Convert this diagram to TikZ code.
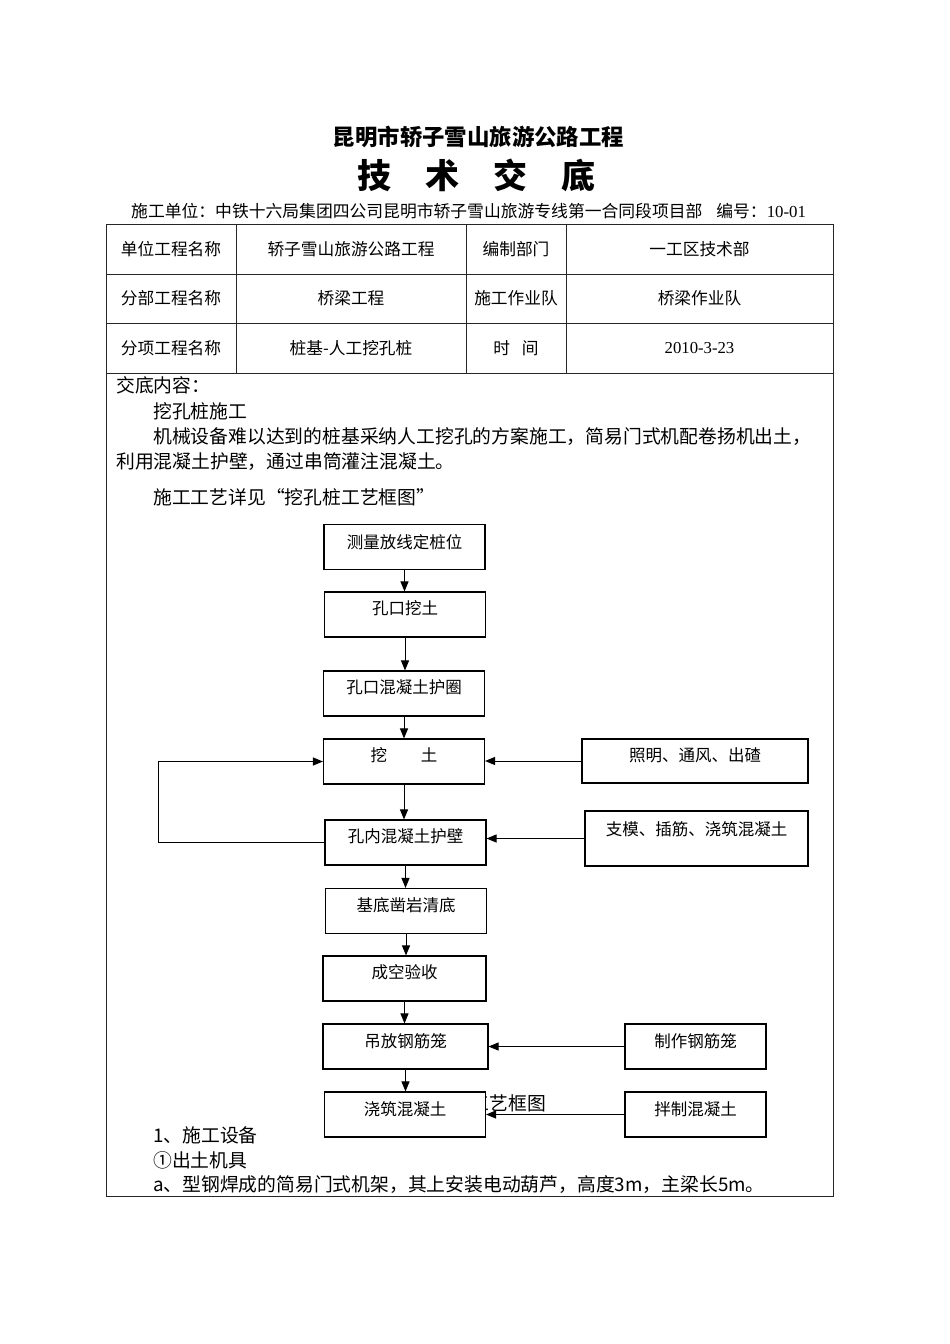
\documentclass[tikz,border=0pt]{standalone}
\usepackage{fontspec}
\setmainfont{Liberation Serif}
\newfontfamily\cjk{Noto Sans CJK SC}
\usetikzlibrary{arrows.meta}
\newcommand{\fs}[1]{\fontsize{#1}{#1}\selectfont}
\begin{document}
\begin{tikzpicture}[x=1pt,y=-1pt,
  fbox/.style={draw, line width=1.1pt, fill=white, inner sep=0pt, minimum width=161pt, minimum height=45pt},
  sbox/.style={draw, line width=1.1pt, fill=white, inner sep=0pt},
  ftext/.style={inner sep=0pt, font=\cjk\fs{16.5}},
  ttext/.style={inner sep=0pt, font=\cjk\fs{16.7}},
  btext/.style={inner sep=0pt, anchor=west, font=\cjk\fs{18.8}},
  grid/.style={draw=black!85, line width=0.9pt},
  arr/.style={draw, line width=1pt, -{Triangle[length=10pt,width=8pt]}}]
\useasboundingbox (0,0) rectangle (950,1344);
\fill[white] (0,0) rectangle (950,1344);

% headings
\node[inner sep=0pt, font=\cjk\bfseries\fs{22.4}] (title) at (478.5,137) {昆明市轿子雪山旅游公路工程};
\node[inner sep=0pt, font=\cjk\bfseries\fs{34}] (title2) at (476,175) {技　术　交　底};
\node[inner sep=0pt, anchor=west, font=\cjk\fs{16.8}] (unit) at (131,211) {施工单位：中铁十六局集团四公司昆明市轿子雪山旅游专线第一合同段项目部\hspace{14pt}编号：{\rmfamily 10-01}};

% table frame
\coordinate (tl) at (106,224);
\coordinate (br) at (833,1196);
\draw[grid] (tl) rectangle (br);
\draw[grid] (106,274) -- (833,274);
\draw[grid] (106,323) -- (833,323);
\draw[grid] (106,373) -- (833,373);
\draw[grid] (236,224) -- (236,373);
\draw[grid] (466,224) -- (466,373);
\draw[grid] (566,224) -- (566,373);

% table texts
\node[ttext] (c11) at (171,249) {单位工程名称};
\node[ttext] (c12) at (351,249) {轿子雪山旅游公路工程};
\node[ttext] (c13) at (516,249) {编制部门};
\node[ttext] (c14) at (699.5,249) {一工区技术部};
\node[ttext] (c21) at (171,298.5) {分部工程名称};
\node[ttext] (c22) at (351,298.5) {桥梁工程};
\node[ttext] (c23) at (516,298.5) {施工作业队};
\node[ttext] (c24) at (699.5,298.5) {桥梁作业队};
\node[ttext] (c31) at (171,348) {分项工程名称};
\node[ttext] (c32) at (351,348) {桩基-人工挖孔桩};
\node[ttext] (c33) at (516,348) {时\hspace{12pt}间};
\node[inner sep=0pt, font=\rmfamily\fs{16.7}] (c34) at (699.5,348) {2010-3-23};

% body text
\node[btext] (p1) at (116,385) {交底内容：};
\node[btext] (p2) at (153,411) {挖孔桩施工};
\node[btext] (p3) at (153,437) {机械设备难以达到的桩基采纳人工挖孔的方案施工，简易门式机配卷扬机出土，};
\node[btext] (p4) at (116,462) {利用混凝土护壁，通过串筒灌注混凝土。};
\node[btext] (p5) at (153,497) {施工工艺详见“挖孔桩工艺框图”};

% caption partly hidden behind the last box
\node[btext] (cap) at (414,1103) {挖孔桩工艺框图};

% flow boxes
\node[fbox] (b1) at (404.5,547) {};
\node[fbox] (b2) at (405,614.5) {};
\node[fbox] (b3) at (404,693.5) {};
\node[fbox] (b4) at (404,761.5) {};
\node[fbox] (b5) at (405.5,842.5) {};
\node[fbox] (b6) at (406,911) {};
\node[fbox, minimum width=163pt] (b7) at (404.5,978.5) {};
\node[fbox, minimum width=165pt] (b8) at (405.5,1046.5) {};
\node[fbox] (b9) at (405,1114.5) {};

\node[ftext] (t1) at (404.5,542) {测量放线定桩位};
\node[ftext] (t2) at (405,608) {孔口挖土};
\node[ftext] (t3) at (404,687) {孔口混凝土护圈};
\node[ftext] (t4) at (404,755) {挖\hspace{34pt}土};
\node[ftext] (t5) at (405.5,836) {孔内混凝土护壁};
\node[ftext] (t6) at (406,905) {基底凿岩清底};
\node[ftext] (t7) at (404.5,972) {成空验收};
\node[ftext] (t8) at (405.5,1041) {吊放钢筋笼};
\node[ftext] (t9) at (405,1109) {浇筑混凝土};

% side boxes
\node[sbox, minimum width=226pt, minimum height=44pt] (s1) at (695,761) {};
\node[sbox, minimum width=223pt, minimum height=55pt] (s2) at (696.5,838.5) {};
\node[sbox, minimum width=141pt, minimum height=45pt] (s3) at (695.5,1046.5) {};
\node[sbox, minimum width=141pt, minimum height=45pt] (s4) at (695.5,1114.5) {};
\node[ftext] (u1) at (695,755) {照明、通风、出碴};
\node[ftext] (u2) at (696.5,829) {支模、插筋、浇筑混凝土};
\node[ftext] (u3) at (695.5,1041) {制作钢筋笼};
\node[ftext] (u4) at (695.5,1109) {拌制混凝土};

% vertical arrows
\foreach \a/\b in {b1/b2,b2/b3,b3/b4,b4/b5,b5/b6,b6/b7,b7/b8,b8/b9}{
  \draw[arr] (\a.south) -- (\a.south |- \b.north);
}
% side arrows
\draw[arr] (s1.west) -- (s1.west -| b4.east);
\draw[arr] (s2.west) -- (s2.west -| b5.east);
\draw[arr] (s3.west) -- (s3.west -| b8.east);
\draw[arr] (s4.west) -- (s4.west -| b9.east);
% loop
\coordinate (lp) at (158,800);
\draw[arr] (b5.west) -- (lp |- b5.west) -- (lp |- b4.west) -- (b4.west);

% bottom text
\node[btext] (q1) at (153,1135) {1、施工设备};
\node[btext] (q2) at (153,1160) {①出土机具};
\node[btext] (q3) at (153,1185) {a、型钢焊成的简易门式机架，其上安装电动葫芦，高度3m，主梁长5m。};
\end{tikzpicture}
\end{document}
